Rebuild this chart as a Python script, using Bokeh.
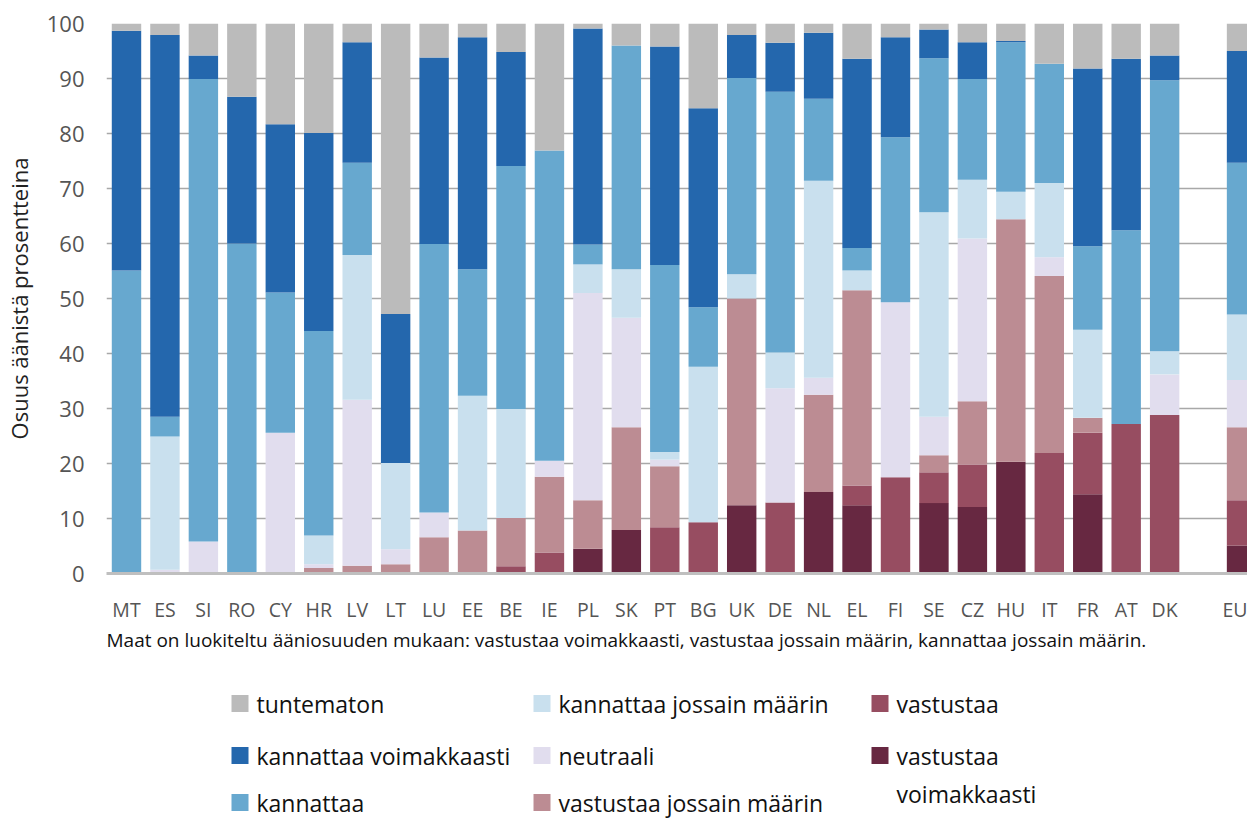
from bokeh.plotting import figure
from bokeh.models import Range1d, FixedTicker, ColumnDataSource
from bokeh.layouts import column
from bokeh.core.properties import value
from bokeh.embed import file_html
from bokeh.resources import INLINE

countries = ["MT", "ES", "SI", "RO", "CY", "HR", "LV", "LT", "LU", "EE", "BE", "IE", "PL", "SK",
             "PT", "BG", "UK", "DE", "NL", "EL", "FI", "SE", "CZ", "HU", "IT", "FR", "AT", "DK", "EU"]

vastustaa_voimakkaasti = [0, 0, 0, 0, 0, 0, 0, 0, 0, 0, 0, 0, 4.5, 7.9, 0, 0, 12.4, 0, 14.8, 12.4,
                          0, 12.8, 12.1, 20.3, 0, 14.4, 0, 0, 5.1]
vastustaa = [0, 0, 0, 0, 0, 0, 0, 0, 0, 0, 1.3, 3.8, 0, 0, 8.4, 9.3, 0, 12.9, 0, 3.6,
             17.5, 5.6, 7.7, 0, 21.9, 11.2, 27.2, 28.8, 8.2]
vastustaa_jossain = [0, 0, 0, 0, 0, 1.0, 1.4, 1.7, 6.6, 7.8, 8.8, 13.8, 8.8, 18.7, 11.1, 0, 37.6, 0,
                     17.7, 35.5, 0, 3.1, 11.5, 44.1, 32.2, 2.7, 0, 0, 13.3]
neutraali = [0, 0.7, 5.8, 0, 25.6, 0.7, 30.2, 2.7, 4.5, 0, 0, 2.9, 37.7, 19.9, 1.2, 0, 0, 20.8,
             3.1, 0, 31.8, 7.0, 29.6, 0, 3.4, 0, 0, 7.4, 8.6]
kannattaa_jossain = [0, 24.2, 0, 0, 0, 5.2, 26.3, 15.7, 0, 24.5, 19.8, 0, 5.2, 8.8, 1.4, 28.3, 4.4,
                     6.5, 35.8, 3.6, 0, 37.2, 10.7, 5.0, 13.5, 16.0, 0, 4.2, 11.9]
kannattaa = [55.1, 3.6, 84.1, 60.0, 25.5, 37.2, 16.8, 0, 48.8, 23.0, 44.2, 56.4, 3.6, 40.7, 34.0,
             10.8, 35.7, 47.4, 14.9, 4.1, 30.0, 28.0, 18.3, 27.2, 21.7, 15.2, 35.2, 49.3, 27.6]
kannattaa_voimakkaasti = [43.6, 69.4, 4.3, 26.7, 30.6, 36.0, 21.9, 27.1, 33.9, 42.2, 20.7, 0, 39.3, 0,
                          39.7, 36.2, 7.8, 8.9, 12.0, 34.4, 18.2, 5.2, 6.7, 0.2, 0, 32.3, 31.2, 4.5, 20.3]
tuntematon = [1.3, 2.1, 5.8, 13.3, 18.3, 19.9, 3.4, 52.8, 6.2, 2.5, 5.2, 23.1, 0.9, 4.0, 4.2, 15.4,
              2.1, 3.5, 1.7, 6.4, 2.5, 1.1, 3.4, 3.2, 7.3, 8.2, 6.4, 5.8, 5.0]

series_names = ["vastustaa voimakkaasti", "vastustaa", "vastustaa jossain määrin", "neutraali",
                "kannattaa jossain määrin", "kannattaa", "kannattaa voimakkaasti", "tuntematon"]
series_values = [vastustaa_voimakkaasti, vastustaa, vastustaa_jossain, neutraali,
                 kannattaa_jossain, kannattaa, kannattaa_voimakkaasti, tuntematon]
colors = ["#672841", "#974d61", "#bc8c93", "#e1ddee", "#c9e0ee", "#67a8cf", "#2467ad", "#bbbbbb"]

y_ticks = [0, 10, 20, 30, 40, 50, 60, 70, 80, 90, 100]

note_text = ("Maat on luokiteltu ääniosuuden mukaan: vastustaa voimakkaasti, "
             "vastustaa jossain määrin, kannattaa jossain määrin.")

FONT = "Open Sans"

# x positions: one empty slot before EU
xpos = [i if c != "EU" else i + 1 for i, c in enumerate(countries)]

keys = ["s%d" % i for i in range(len(series_names))]
data = {"x": xpos}
for k, v in zip(keys, series_values):
    data[k] = v
source = ColumnDataSource(data)

W = 1247
LEFT = 100
frame_w = 1141
slot = 38.45
x0 = -0.52

H1 = 625
p = figure(width=W, height=H1, output_backend="svg", toolbar_location=None,
           x_range=Range1d(x0, x0 + frame_w / slot), y_range=Range1d(0, 100),
           min_border_left=LEFT, min_border_right=0, min_border_top=23, min_border_bottom=50)
p.outline_line_color = None
p.background_fill_color = "white"

p.vbar_stack(keys, x="x", width=0.765, source=source, color=colors, line_color=None)

p.xgrid.grid_line_color = None
p.ygrid.grid_line_color = "#a8a8a8"
p.ygrid.grid_line_width = 1.5
p.ygrid.ticker = FixedTicker(ticks=y_ticks)

p.yaxis.ticker = FixedTicker(ticks=y_ticks)
p.yaxis.axis_line_color = None
p.yaxis.major_tick_line_color = None
p.yaxis.minor_tick_line_color = None
p.yaxis.major_label_text_font = FONT
p.yaxis.major_label_text_font_size = "22px"
p.yaxis.major_label_text_color = "#555555"
p.yaxis.major_label_standoff = 16
p.yaxis.axis_label = "Osuus äänistä prosentteina"
p.yaxis.axis_label_text_font = FONT
p.yaxis.axis_label_text_font_style = "normal"
p.yaxis.axis_label_text_font_size = "22px"
p.yaxis.axis_label_text_color = "#222222"
p.yaxis.axis_label_standoff = 10

p.xaxis.ticker = FixedTicker(ticks=xpos)
p.xaxis.major_label_overrides = {x: c for x, c in zip(xpos, countries)}
p.xaxis.axis_line_color = "#bfbfbf"
p.xaxis.axis_line_width = 3
p.xaxis.major_tick_line_color = None
p.xaxis.minor_tick_line_color = None
p.xaxis.major_label_text_font = FONT
p.xaxis.major_label_text_font_size = "19.5px"
p.xaxis.major_label_text_color = "#555555"
p.xaxis.major_label_standoff = 16

# Note + legend panel (coordinates in canvas pixels, y downward)
H2 = 194
leg = figure(width=W, height=H2, output_backend="svg", toolbar_location=None,
             x_range=Range1d(LEFT, LEFT + frame_w), y_range=Range1d(H2, 0),
             min_border_left=LEFT, min_border_right=0, min_border_top=0, min_border_bottom=0)
leg.axis.visible = False
leg.grid.visible = False
leg.outline_line_color = None

leg.text(x=[LEFT], y=[14], text=[note_text],
         text_font=value(FONT), text_font_size="19px", text_color="#111111",
         text_baseline="middle", text_align="left")

# legend order: column-major, top of stack first
order = [7, 6, 5, 4, 3, 2, 1, 0]
col_x = [225, 527, 865]
row_y = [78, 130, 177]
sq_x, sq_y, sq_c, tx, ty, tt = [], [], [], [], [], []
for n, idx in enumerate(order):
    c, r = n // 3, n % 3
    sq_x.append(col_x[c] + 8.5)
    sq_y.append(row_y[r])
    sq_c.append(colors[idx])
    name = series_names[idx]
    if name == "vastustaa voimakkaasti":
        tx += [col_x[c] + 25, col_x[c] + 25]
        ty += [row_y[r], row_y[r] + 38]
        tt += ["vastustaa", "voimakkaasti"]
    else:
        tx.append(col_x[c] + 25)
        ty.append(row_y[r])
        tt.append(name)
leg.rect(x=sq_x, y=sq_y, width=17, height=17, color=sq_c, line_color=None)
leg.text(x=tx, y=ty, text=tt, text_font=value(FONT), text_font_size="23px",
         text_color="#111111", text_baseline="middle", text_align="left")

layout = column(p, leg, spacing=0)
open("out.html", "w").write(file_html(layout, INLINE))
